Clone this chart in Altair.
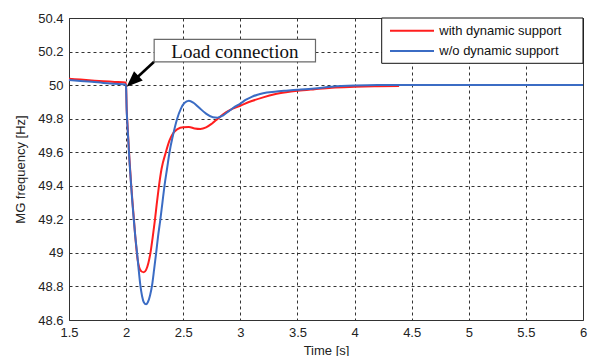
import altair as alt
import pandas as pd

# Microgrid frequency after a load connection at t = 2 s
t_with = [1.50, 1.60, 1.70, 1.80, 1.90, 1.995, 2.000, 2.005, 2.010, 2.020, 2.030,
          2.044, 2.055, 2.067, 2.080, 2.090, 2.100, 2.115, 2.135, 2.155, 2.175,
          2.195, 2.213, 2.232, 2.251, 2.268, 2.286, 2.310, 2.348, 2.380, 2.410,
          2.450, 2.500, 2.550, 2.600, 2.650, 2.700, 2.750, 2.800, 2.850, 2.900,
          3.000, 3.100, 3.200, 3.300, 3.400, 3.500, 3.650, 3.800, 4.000, 4.200,
          4.390]
f_with = [50.038, 50.033, 50.028, 50.023, 50.019, 50.015, 49.990, 49.860, 49.790,
          49.670, 49.550, 49.410, 49.310, 49.210, 49.100, 49.025, 48.965, 48.912,
          48.889, 48.885, 48.899, 48.940, 49.000, 49.090, 49.190, 49.290, 49.390,
          49.500, 49.600, 49.670, 49.712, 49.738, 49.749, 49.750, 49.742, 49.739,
          49.748, 49.770, 49.798, 49.826, 49.848, 49.877, 49.905, 49.927, 49.945,
          49.957, 49.966, 49.976, 49.985, 49.990, 49.993, 49.995]

t_wo = [1.50, 1.60, 1.70, 1.80, 1.90, 1.995, 2.000, 2.005, 2.010, 2.020, 2.030,
        2.044, 2.055, 2.067, 2.080, 2.096, 2.110, 2.125, 2.140, 2.155, 2.175,
        2.190, 2.210, 2.228, 2.245, 2.263, 2.280, 2.300, 2.318, 2.336, 2.358,
        2.380, 2.410, 2.447, 2.480, 2.510, 2.550, 2.590, 2.640, 2.700, 2.760,
        2.800, 2.850, 2.900, 2.950, 3.000, 3.050, 3.100, 3.150, 3.200, 3.300,
        3.400, 3.500, 3.650, 3.800, 4.000, 4.200, 4.500, 5.000, 5.500, 6.000]
f_wo = [50.030, 50.025, 50.020, 50.013, 50.008, 50.004, 49.980, 49.850, 49.780,
        49.660, 49.540, 49.400, 49.300, 49.200, 49.100, 49.000, 48.900, 48.805,
        48.742, 48.706, 48.694, 48.706, 48.748, 48.810, 48.900, 49.000, 49.100,
        49.200, 49.300, 49.400, 49.500, 49.600, 49.700, 49.800, 49.860, 49.893,
        49.907, 49.895, 49.865, 49.830, 49.808, 49.806, 49.820, 49.845, 49.870,
        49.890, 49.913, 49.930, 49.943, 49.952, 49.961, 49.967, 49.972, 49.980,
        49.990, 49.997, 50.000, 50.000, 50.000, 50.000, 50.000]

x_ticks = [1.5, 2, 2.5, 3, 3.5, 4, 4.5, 5, 5.5, 6]
y_ticks = [48.6, 48.8, 49.0, 49.2, 49.4, 49.6, 49.8, 50.0, 50.2, 50.4]

series_names = ["with dynamic support", "w/o dynamic support"]
series_colors = ["#ff1e1e", "#3b6cc4"]

# annotation box, label and arrow (data coordinates)
note_text = "Load connection"
note_box = {"x": 2.2456, "x2": 3.658, "y": 50.139, "y2": 50.273}
note_center = {"x": 2.952, "y": 50.206}
arrow_tail = {"x": 2.245, "y": 50.139}
arrow_stem_end = {"x": 2.058, "y": 50.022}
arrow_tip = {"x": 2.005, "y": 49.990}

W, H = 514, 302

xs = alt.Scale(domain=[1.5, 6], nice=False)
ys = alt.Scale(domain=[48.6, 50.4], nice=False)

x_axis = alt.Axis(values=x_ticks, format="~g", title="Time [s]", grid=True,
                  labelFlush=False, labelOverlap=False)
y_axis = alt.Axis(values=y_ticks, format="~g", title="MG frequency [Hz]", grid=True,
                  labelFlush=False, labelOverlap=False)


def X(field):
    return alt.X(field, scale=xs, axis=x_axis)


def Y(field):
    return alt.Y(field, scale=ys, axis=y_axis)


df_with = pd.DataFrame({"t": t_with, "f": f_with})
df_wo = pd.DataFrame({"t": t_wo, "f": f_wo})

line_with = alt.Chart(df_with).mark_line(
    color=series_colors[0], strokeWidth=2, interpolate="monotone"
).encode(x=X("t:Q"), y=Y("f:Q"))

line_wo = alt.Chart(df_wo).mark_line(
    color=series_colors[1], strokeWidth=2, interpolate="monotone"
).encode(x=X("t:Q"), y=Y("f:Q"))

one = pd.DataFrame({"k": [0]})

arrow_df = pd.DataFrame({
    "x": [arrow_tail["x"]], "y": [arrow_tail["y"]],
    "x2": [arrow_stem_end["x"]], "y2": [arrow_stem_end["y"]],
})
arrow_stem = alt.Chart(arrow_df).mark_rule(color="black", strokeWidth=2.6).encode(
    x=X("x:Q"), y=Y("y:Q"), x2="x2:Q", y2="y2:Q"
)
head_df = pd.DataFrame({"x": [arrow_tip["x"]], "y": [arrow_tip["y"]]})
arrow_head = alt.Chart(head_df).mark_point(
    shape="M0,0L-0.8,2L0.8,2Z", size=256, filled=True, color="black",
    opacity=1, angle=227, strokeWidth=0
).encode(x=X("x:Q"), y=Y("y:Q"))

box_df = pd.DataFrame({k: [v] for k, v in note_box.items()})
note_rect = alt.Chart(box_df).mark_rect(
    fill="white", stroke="#6a6a6a", strokeWidth=1.2
).encode(x=X("x:Q"), x2="x2:Q", y=Y("y:Q"), y2="y2:Q")

text_df = pd.DataFrame({"x": [note_center["x"]], "y": [note_center["y"]], "label": [note_text]})
note_label = alt.Chart(text_df).mark_text(
    font="Liberation Serif", fontSize=19, color="#111", align="center", baseline="middle", dy=1
).encode(x=X("x:Q"), y=Y("y:Q"), text="label:N")

# legend panel in the top-right corner of the plot area
legend_box = alt.Chart(one).mark_rect(fill="white", stroke="#111", strokeWidth=1).encode(
    x=alt.value(312.7), x2=alt.value(W), y=alt.value(0), y2=alt.value(45.3)
)
legend_layers = [legend_box]
for i, (name, col) in enumerate(zip(series_names, series_colors)):
    yy = 12.7 + i * 20.3
    legend_layers.append(
        alt.Chart(one).mark_rule(color=col, strokeWidth=2).encode(
            x=alt.value(321), x2=alt.value(365), y=alt.value(yy)
        )
    )
    legend_layers.append(
        alt.Chart(one).mark_text(
            text=name, font="Liberation Sans", fontSize=13, color="#111",
            align="left", baseline="middle"
        ).encode(x=alt.value(370.3), y=alt.value(yy))
    )

chart = alt.layer(
    line_with, line_wo, arrow_stem, arrow_head, note_rect, note_label, *legend_layers
).properties(
    width=W, height=H,
    autosize=alt.AutoSizeParams(type="none"),
    padding={"left": 69, "top": 18, "right": 6, "bottom": 36},
    background="white",
).configure_view(
    stroke="#333", strokeWidth=1
).configure_axis(
    domain=False, ticks=False, labelOverlap=False,
    gridColor="#333", gridDash=[3, 3], gridOpacity=1, gridWidth=1,
    labelFont="Liberation Sans", labelFontSize=13, labelColor="#222",
    titleFont="Liberation Sans", titleFontSize=13, titleFontWeight="normal", titleColor="#222",
).configure_axisX(
    labelPadding=6, titlePadding=5
).configure_axisY(
    labelPadding=6, titlePadding=10
)

chart.save("out.html", embed_options={"renderer": "svg", "actions": False})
